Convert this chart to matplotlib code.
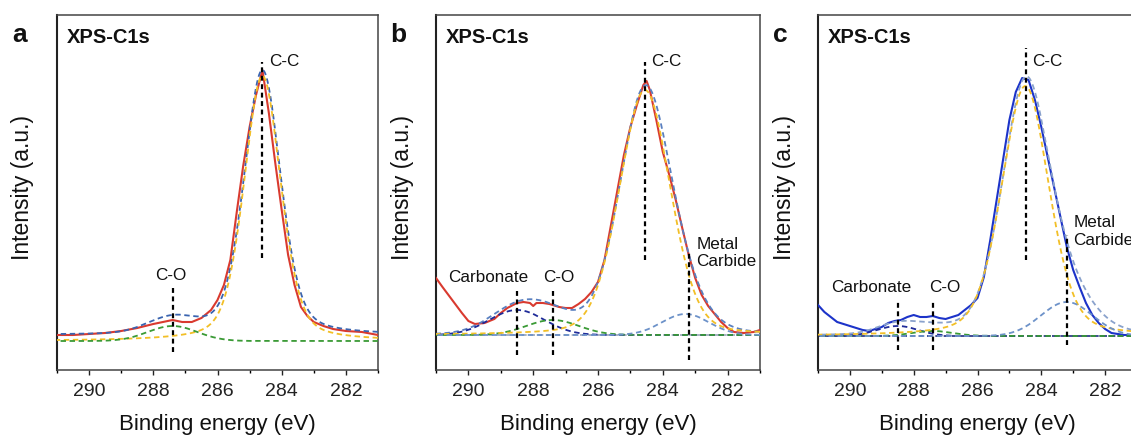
import numpy as np
import matplotlib
matplotlib.use("Agg")
import matplotlib.pyplot as plt

plt.rcParams['font.family'] = ['Liberation Sans', 'DejaVu Sans']

# ---------------- data (binding energy in eV, intensity in a.u.) ----------------
# Panel a: measured spectrum
energy_a = [291.0, 290.5, 290.0, 289.5, 289.0, 288.5, 288.0, 287.7, 287.4, 287.1,
            286.8, 286.5, 286.2, 286.0, 285.8, 285.6, 285.4, 285.2, 285.0, 284.8,
            284.6, 284.4, 284.2, 284.0, 283.8, 283.6, 283.4, 283.2, 283.0, 282.7,
            282.4, 282.0, 281.5, 281.0]
spectrum_a = [35, 35, 36, 37, 39, 42, 46, 48, 50, 48,
              48, 52, 60, 70, 85, 110, 158, 204, 243, 275,
              300, 257, 207, 160, 115, 85, 63, 54, 48, 44,
              41, 39, 38, 35]
baseline_a = 29
background_a = 6
peak_names_a = ['C-C', 'C-O']
peak_centers_a = [284.6, 287.4]
peak_heights_a = [265, 15]
peak_fwhm_a = [1.35, 1.8]
peak_lorentz_a = [0.35, 0.0]

# Panel b: measured spectrum
energy_b = [291.0, 290.8, 290.5, 290.2, 290.0, 289.8, 289.5, 289.2, 289.0, 288.8,
            288.5, 288.3, 288.1, 288.0, 287.9, 287.7, 287.5, 287.2, 287.0, 286.8,
            286.6, 286.4, 286.2, 286.0, 285.8, 285.6, 285.4, 285.2, 285.0, 284.8,
            284.6, 284.5, 284.4, 284.2, 284.0, 283.8, 283.6, 283.4, 283.2, 283.0,
            282.8, 282.6, 282.4, 282.2, 282.0, 281.8, 281.5, 281.2, 281.0]
spectrum_b = [92, 83, 70, 57, 49, 46, 47, 51, 57, 62,
              67, 68, 67, 64, 67, 67, 66, 63, 62, 62,
              66, 71, 78, 88, 110, 145, 180, 215, 243, 265,
              285, 289, 280, 250, 218, 195, 170, 142, 115, 92,
              75, 64, 56, 48, 42, 38, 37, 38, 40]
baseline_b = 35
background_b = 0
peak_names_b = ['Carbonate', 'C-O', 'C-C', 'Metal Carbide']
peak_centers_b = [288.5, 287.4, 284.55, 283.3]
peak_heights_b = [25, 15, 245, 21]
peak_fwhm_b = [2.0, 1.9, 1.85, 1.7]
peak_lorentz_b = [0.0, 0.0, 0.2, 0.0]

# Panel c: measured spectrum
energy_c = [291.0, 290.8, 290.6, 290.4, 290.2, 290.0, 289.8, 289.6, 289.4, 289.2,
            289.0, 288.8, 288.6, 288.4, 288.2, 288.0, 287.8, 287.6, 287.4, 287.2,
            287.0, 286.8, 286.6, 286.4, 286.2, 286.0, 285.8, 285.6, 285.4, 285.2,
            285.0, 284.8, 284.6, 284.4, 284.2, 284.0, 283.8, 283.6, 283.4, 283.2,
            283.0, 282.8, 282.6, 282.4, 282.2, 282.0, 281.8, 281.6, 281.4, 281.2,
            281.0]
spectrum_c = [65, 58, 53, 48, 46, 44, 42, 40, 39, 41,
              43, 47, 49, 50, 53, 55, 53, 53, 54, 52,
              51, 53, 55, 60, 65, 72, 93, 130, 170, 210,
              250, 278, 292, 290, 270, 243, 213, 183, 153, 123,
              100, 83, 67, 55, 47, 41, 37, 36, 35, 35,
              35]
baseline_c = 34
background_c = 0
peak_names_c = ['Carbonate', 'C-O', 'C-C', 'Metal Carbide']
peak_centers_c = [288.5, 287.4, 284.5, 283.2]
peak_heights_c = [10, 5, 250, 34]
peak_fwhm_c = [1.5, 1.5, 1.75, 1.9]
peak_lorentz_c = [0.0, 0.0, 0.3, 0.0]

x_ticks = [290, 288, 286, 284, 282]
x_tick_labels = ['290', '288', '286', '284', '282']

# ---------------- styling ----------------
W, H = 1131, 437
COMP_COLORS = {'C-C': '#f2bf26', 'C-O': '#3a9a35',
               'Carbonate': '#1f2b99', 'Metal Carbide': '#6d92c9'}
DASH = (0, (3, 2))
MARK_DASH = (0, (2.2, 1.6))


def pseudo_voigt(x, c, h, w, m):
    g = np.exp(-4 * np.log(2) * ((x - c) / w) ** 2)
    lz = 1.0 / (1.0 + 4 * ((x - c) / w) ** 2)
    return h * ((1 - m) * g + m * lz)


fig = plt.figure(figsize=(W / 100, H / 100), dpi=100)
fig.patch.set_facecolor('white')


def px_axes(left, right, top=15, bottom=370):
    return fig.add_axes([left / W, 1 - bottom / H, (right - left) / W, (bottom - top) / H])


def style_axes(ax):
    ax.set_xlim(291, 281)
    ax.set_ylim(0, 355)
    ax.set_yticks([])
    ax.set_xticks(x_ticks)
    ax.set_xticklabels(x_tick_labels)
    ax.set_xticks(np.arange(281, 292, 2), minor=True)
    ax.tick_params(axis='x', which='major', direction='out', length=3.6, width=1.0,
                   labelsize=14, pad=5.6, colors='#222222')
    ax.tick_params(axis='x', which='minor', direction='out', length=2.2, width=1.0)
    for s in ['top', 'right', 'bottom']:
        ax.spines[s].set_color('#444444')
        ax.spines[s].set_linewidth(1.1)
    ax.spines['left'].set_color('#222222')
    ax.spines['left'].set_linewidth(1.5)
    ax.text(10 / ((ax.get_position().width) * W), 1 - 28 / 355, 'XPS-C1s',
            transform=ax.transAxes, fontsize=14.5, fontweight='bold',
            ha='left', va='baseline', color='#111111')


def draw_panel(ax, energy, spectrum, meas_color, baseline, background,
               names, centers, heights, fwhms, lorentz, env_color, base_color=None):
    xf = np.linspace(281, 291, 800)
    comps = [pseudo_voigt(xf, c, h, w, m)
             for c, h, w, m in zip(centers, heights, fwhms, lorentz)]
    envelope = baseline + background + np.sum(comps, axis=0)
    if base_color is not None:
        ax.plot(xf, np.full_like(xf, baseline), color=base_color, lw=1.2, ls=DASH, zorder=2)
    ax.plot(energy, spectrum, color=meas_color, lw=1.5, zorder=3)
    ax.plot(xf, envelope, color=env_color, lw=1.3, ls=DASH, zorder=4)
    for n, cv in zip(names, comps):
        ax.plot(xf, baseline + cv, color=COMP_COLORS[n], lw=1.3, ls=DASH, zorder=4)


def vmark(ax, e, y0, y1):
    ax.plot([e, e], [y0, y1], color='black', lw=1.6, ls=MARK_DASH, zorder=6)


def label(ax, text, e, y, ha='center', dx=0):
    ax.annotate(text, xy=(e, y), xytext=(dx, 0), textcoords='offset points',
                ha=ha, va='center', fontsize=12.3, color='#111111', zorder=7)


# Panel a
ax_a = px_axes(57, 378)
style_axes(ax_a)
draw_panel(ax_a, energy_a, spectrum_a, '#d93a2f', baseline_a, background_a,
           peak_names_a, peak_centers_a, peak_heights_a, peak_fwhm_a, peak_lorentz_a,
           env_color='#3a64b0')
vmark(ax_a, 284.6, 112, 308)
label(ax_a, 'C-C', 284.6, 308, ha='left', dx=5)
vmark(ax_a, 287.4, 18, 83)
label(ax_a, 'C-O', 287.45, 95)

# Panel b
ax_b = px_axes(436, 760)
style_axes(ax_b)
draw_panel(ax_b, energy_b, spectrum_b, '#d93a2f', baseline_b, background_b,
           peak_names_b, peak_centers_b, peak_heights_b, peak_fwhm_b, peak_lorentz_b,
           env_color='#5a80c0', base_color='#9aa6b8')
vmark(ax_b, 284.55, 110, 308)
label(ax_b, 'C-C', 284.55, 308, ha='left', dx=4.5)
vmark(ax_b, 288.5, 15, 80)
label(ax_b, 'Carbonate', 289.4, 93)
vmark(ax_b, 287.4, 15, 80)
label(ax_b, 'C-O', 287.2, 93)
vmark(ax_b, 283.2, 10, 117)
label(ax_b, 'Metal\nCarbide', 283.2, 117, ha='left', dx=5.5)

# Panel c (extends past the right edge of the figure)
ax_c = px_axes(818, 1137)
style_axes(ax_c)
draw_panel(ax_c, energy_c, spectrum_c, '#1c33c9', baseline_c, background_c,
           peak_names_c, peak_centers_c, peak_heights_c, peak_fwhm_c, peak_lorentz_c,
           env_color='#8aa2cc', base_color='#1f2b80')
vmark(ax_c, 284.47, 110, 322)
label(ax_c, 'C-C', 284.47, 308, ha='left', dx=4.5)
vmark(ax_c, 288.49, 20, 68)
label(ax_c, 'Carbonate', 289.32, 82)
vmark(ax_c, 287.39, 20, 69)
label(ax_c, 'C-O', 287.04, 82)
vmark(ax_c, 283.19, 25, 135)
label(ax_c, 'Metal\nCarbide', 283.19, 138.5, ha='left', dx=4.5)

# Axis labels and panel letters
for cx, lx, letter, yl in [((57 + 378) / 2, 20, 'a', 22.5),
                           ((436 + 760) / 2, 398, 'b', 402),
                           ((818 + 1137) / 2, 780, 'c', 784)]:
    fig.text(cx / W, 1 - 430 / H, 'Binding energy (eV)', ha='center', va='baseline',
             fontsize=16, color='#111111')
    fig.text(yl / W, 1 - 188 / H, 'Intensity (a.u.)', ha='center', va='center',
             rotation=90, fontsize=16.5, color='#111111')
    fig.text(lx / W, 1 - 42 / H, letter, ha='center', va='baseline',
             fontsize=19, fontweight='bold', color='#111111')

fig.savefig('out.png', dpi=100)
